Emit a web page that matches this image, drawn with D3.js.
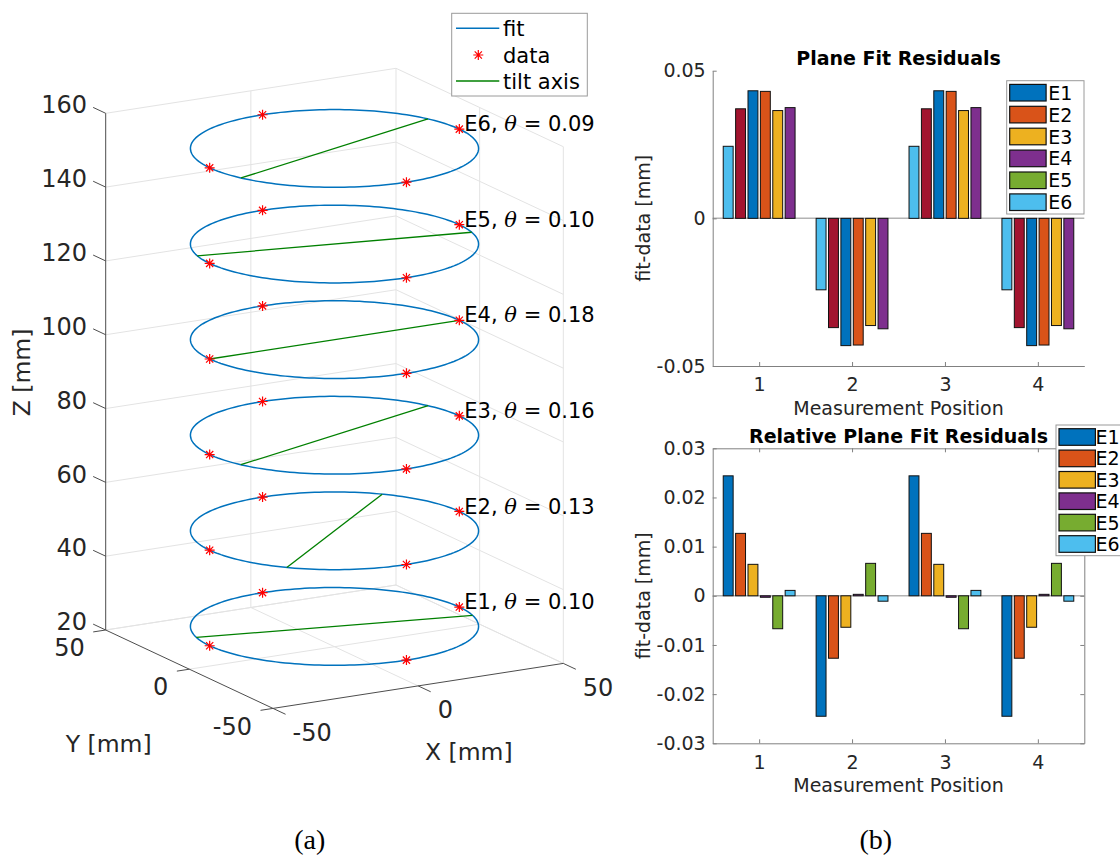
<!DOCTYPE html>
<html>
<head>
<meta charset="utf-8">
<script src="https://cdn.jsdelivr.net/npm/d3@7"></script>
<style>
  html, body { margin: 0; padding: 0; background: #fff; }
  svg { display: block; font-family: "DejaVu Sans", sans-serif; }
</style>
</head>
<body>
<svg id="fig" width="1120" height="857"></svg>
<script>
// ---------------- left panel: fitted circles of the six planes ----------------
const planeNames    = ["E1", "E2", "E3", "E4", "E5", "E6"];
const planeZ        = [25.5, 51.4, 77.3, 103.2, 129.1, 155.0];   // plane height [mm]
const fitRadius     = 43;                                        // fitted circle radius [mm]
const tiltTheta     = [0.10, 0.13, 0.16, 0.18, 0.10, 0.09];      // tilt angle theta
const tiltAxisAngle = [-13.4, 40.7, 19.5, 0.0, -12.2, 19.6];     // azimuth of tilt axis [deg]
const probeAngles   = [0, 90, 180, 270];                         // measured points [deg]
const xTicks3 = [-50, 0, 50];
const yTicks3 = [-50, 0, 50];
const zTicks3 = [20, 40, 60, 80, 100, 120, 140, 160];

// ---------------- right panels: residuals per measurement position ----------------
const positions = [1, 2, 3, 4];
const seriesNames = ["E1", "E2", "E3", "E4", "E5", "E6"];
const seriesColors = ["#0072BD", "#D95319", "#EDB120", "#7E2F8E", "#77AC30", "#4DBEEE"];

// plane fit residuals, bars in drawing order
const planeResiduals = [
  [0.0244, -0.0242, 0.0244, -0.0242],
  [0.0371, -0.0370, 0.0371, -0.0370],
  [0.0432, -0.0431, 0.0432, -0.0431],
  [0.0430, -0.0429, 0.0430, -0.0429],
  [0.0365, -0.0363, 0.0365, -0.0363],
  [0.0375, -0.0374, 0.0375, -0.0374]
];
const planeResidualColors = ["#4DBEEE", "#A2142F", "#0072BD", "#D95319", "#EDB120", "#7E2F8E"];

// relative plane fit residuals, one row per plane E1..E6
const relResiduals = [
  [0.0244, -0.0245, 0.0244, -0.0245],
  [0.0127, -0.0127, 0.0127, -0.0127],
  [0.0064, -0.0064, 0.0064, -0.0064],
  [-0.0003, 0.0003, -0.0003, 0.0003],
  [-0.0067, 0.0066, -0.0067, 0.0066],
  [0.0011, -0.0011, 0.0011, -0.0011]
];

const topTicks = [-0.05, 0, 0.05];
const topTickLabels = ["-0.05", "0", "0.05"];
const bottomTicks = [-0.03, -0.02, -0.01, 0, 0.01, 0.02, 0.03];
const bottomTickLabels = ["-0.03", "-0.02", "-0.01", "0", "0.01", "0.02", "0.03"];

// ============================================================================
const svg = d3.select("#fig");
const TXT = "#262626";

// ---------------- 3-D axes (orthographic projection) ----------------
const sx = d3.scaleLinear().domain([-50, 50]).range([0, 1]);
const sy = d3.scaleLinear().domain([-50, 50]).range([0, 1]);
const sz = d3.scaleLinear().domain([20, 160]).range([0, 1]);
const O  = [273, 708.4];          // corner x=-50, y=-50, z=20
const EX = [290.3, -45.0];        // full x span on screen
const EY = [-167.3, -78.4];       // full y span on screen
const EZ = [0, -516.7];           // full z span on screen
function proj(x, y, z) {
  const u = sx(x), v = sy(y), w = sz(z);
  return [O[0] + u * EX[0] + v * EY[0] + w * EZ[0],
          O[1] + u * EX[1] + v * EY[1] + w * EZ[1]];
}
const line3 = d3.line().x(d => d[0]).y(d => d[1]);

const g3 = svg.append("g");
const grid = g3.append("g").attr("fill", "none").attr("stroke", "#e3e3e3").attr("stroke-width", 1);
// back walls: constant-z lines
zTicks3.forEach(z => grid.append("path").attr("d", line3([proj(-50, 50, z), proj(50, 50, z), proj(50, -50, z)])));
// back-left wall verticals
xTicks3.filter(x => x > -50).forEach(x => grid.append("path").attr("d", line3([proj(x, 50, 20), proj(x, 50, 160)])));
// back-right wall verticals
yTicks3.filter(y => y < 50).forEach(y => grid.append("path").attr("d", line3([proj(50, y, 20), proj(50, y, 160)])));
// floor
xTicks3.filter(x => x > -50).forEach(x => grid.append("path").attr("d", line3([proj(x, -50, 20), proj(x, 50, 20)])));
yTicks3.filter(y => y > -50).forEach(y => grid.append("path").attr("d", line3([proj(-50, y, 20), proj(50, y, 20)])));

// axis lines and ticks
const ax = g3.append("g").attr("fill", "none").attr("stroke", "#4d4d4d").attr("stroke-width", 1);
ax.append("path").attr("d", line3([proj(-50, 50, 20), proj(-50, 50, 160)]));
ax.append("path").attr("d", line3([proj(-50, 50, 20), proj(-50, -50, 20)]));
ax.append("path").attr("d", line3([proj(-50, -50, 20), proj(50, -50, 20)]));

const tickFs = 24;
zTicks3.forEach(z => {
  const a = proj(-50, 50, z), b = proj(-50, 57.5, z);
  ax.append("path").attr("d", line3([a, b]));
  g3.append("text").attr("x", b[0] - 6).attr("y", b[1] - 2.7 + 0.364 * tickFs)
    .attr("text-anchor", "end").attr("font-size", tickFs).attr("fill", TXT).text(z);
});
yTicks3.forEach(y => {
  const a = proj(-50, y, 20), b = proj(-54.3, y, 20);
  ax.append("path").attr("d", line3([a, b]));
  g3.append("text").attr("x", b[0] - 8.5).attr("y", b[1] + 15.5 + 0.364 * tickFs)
    .attr("text-anchor", "end").attr("font-size", tickFs).attr("fill", TXT).text(y);
});
xTicks3.forEach(x => {
  const a = proj(x, -50, 20), b = proj(x, -57.5, 20);
  ax.append("path").attr("d", line3([a, b]));
  g3.append("text").attr("x", b[0] + 7).attr("y", b[1] + 17.5 + 0.364 * tickFs)
    .attr("text-anchor", "start").attr("font-size", tickFs).attr("fill", TXT).text(x);
});

const labFs = 23.5;
g3.append("text").attr("x", 108.7).attr("y", 745 + 0.31 * labFs).attr("text-anchor", "middle")
  .attr("font-size", labFs).attr("fill", TXT).text("Y [mm]");
g3.append("text").attr("x", 468.8).attr("y", 752.5 + 0.31 * labFs).attr("text-anchor", "middle")
  .attr("font-size", labFs).attr("fill", TXT).text("X [mm]");
g3.append("text").attr("transform", `translate(${22.7 + 0.31 * labFs},372.5) rotate(-90)`)
  .attr("text-anchor", "middle").attr("font-size", labFs).attr("fill", TXT).text("Z [mm]");

// asterisk marker
function asterisk(c, s) {
  const d = s * 0.72;
  return `M${c[0] - s},${c[1]}L${c[0] + s},${c[1]}M${c[0]},${c[1] - s}L${c[0]},${c[1] + s}` +
         `M${c[0] - d},${c[1] - d}L${c[0] + d},${c[1] + d}M${c[0] - d},${c[1] + d}L${c[0] + d},${c[1] - d}`;
}
const rad = Math.PI / 180;
const circleAngles = d3.range(0, 361, 2);

planeNames.forEach((name, i) => {
  const z = planeZ[i];
  // fitted circle
  g3.append("path")
    .attr("d", line3(circleAngles.map(a => proj(fitRadius * Math.cos(a * rad), fitRadius * Math.sin(a * rad), z))))
    .attr("fill", "none").attr("stroke", "#0072BD").attr("stroke-width", 1.5);
  // tilt axis
  const t = tiltAxisAngle[i] * rad;
  g3.append("path")
    .attr("d", line3([proj(fitRadius * Math.cos(t), fitRadius * Math.sin(t), z),
                      proj(-fitRadius * Math.cos(t), -fitRadius * Math.sin(t), z)]))
    .attr("fill", "none").attr("stroke", "#008000").attr("stroke-width", 1.3);
  // measured points
  probeAngles.forEach(a => {
    const p = proj(fitRadius * Math.cos(a * rad), fitRadius * Math.sin(a * rad), z);
    g3.append("path").attr("d", asterisk(p, 5)).attr("stroke", "#ff0000").attr("stroke-width", 1.2).attr("fill", "none");
  });
  // label
  const p0 = proj(fitRadius, 0, z);
  const txt = g3.append("text").attr("x", p0[0] + 5).attr("y", p0[1] + 2.2)
    .attr("font-size", 21).attr("fill", "#000");
  txt.append("tspan").text(`${name}, `);
  txt.append("tspan").attr("font-family", "'DejaVu Serif', serif").attr("font-style", "italic").text("θ");
  txt.append("tspan").text(` = ${d3.format(".2f")(tiltTheta[i])}`);
});

// legend (left panel)
const lg = g3.append("g");
lg.append("rect").attr("x", 451.7).attr("y", 13.3).attr("width", 135.6).attr("height", 82.7)
  .attr("fill", "#fff").attr("stroke", "#9a9a9a").attr("stroke-width", 1);
const legItems = [
  { label: "fit", kind: "line", color: "#0072BD", y: 28.3 },
  { label: "data", kind: "star", color: "#ff0000", y: 55 },
  { label: "tilt axis", kind: "line", color: "#008000", y: 81 }
];
legItems.forEach(it => {
  if (it.kind === "line") {
    lg.append("line").attr("x1", 456).attr("x2", 499.3).attr("y1", it.y).attr("y2", it.y)
      .attr("stroke", it.color).attr("stroke-width", 1.5);
  } else {
    lg.append("path").attr("d", asterisk([478.3, it.y], 5)).attr("stroke", it.color).attr("stroke-width", 1.2);
  }
  lg.append("text").attr("x", 503).attr("y", it.y + 8).attr("font-size", 21).attr("fill", "#000").text(it.label);
});

// panel labels
svg.append("text").attr("x", 309.7).attr("y", 848.6).attr("text-anchor", "middle")
  .attr("font-family", "'Liberation Serif', serif").attr("font-size", 28).attr("fill", "#000").text("(a)");
svg.append("text").attr("x", 875.8).attr("y", 849.1).attr("text-anchor", "middle")
  .attr("font-family", "'Liberation Serif', serif").attr("font-size", 28).attr("fill", "#000").text("(b)");

// ---------------- grouped bar panels ----------------
function barPanel(cfg) {
  const fs = 19;
  const g = svg.append("g");
  const x = d3.scaleLinear().domain([0.5, 4.5]).range([cfg.left, cfg.right]);
  const y = d3.scaleLinear().domain(cfg.yDomain).range([cfg.bottom, cfg.top]);
  const slot = d3.scaleBand().domain(d3.range(cfg.values.length)).range([-0.4, 0.4])
    .paddingInner(0.2).paddingOuter(0.1);

  // zero baseline
  g.append("line").attr("x1", cfg.left).attr("x2", cfg.right).attr("y1", y(0)).attr("y2", y(0))
    .attr("stroke", "#b3b3b3").attr("stroke-width", 1.5);

  // bars
  cfg.values.forEach((vals, s) => {
    g.append("g").selectAll("rect").data(vals).join("rect")
      .attr("x", (v, k) => x(positions[k] + slot(s)))
      .attr("width", x(slot.bandwidth()) - x(0))
      .attr("y", v => y(Math.max(0, v)))
      .attr("height", v => Math.abs(y(v) - y(0)))
      .attr("fill", cfg.colors[s]).attr("stroke", "#111").attr("stroke-width", 1);
  });

  const style = sel => {
    sel.select(".domain").attr("stroke", "#808080");
    sel.selectAll(".tick line").attr("stroke", "#808080");
    sel.selectAll("text").attr("font-family", "'DejaVu Sans', sans-serif").attr("font-size", fs).attr("fill", TXT);
  };
  g.append("g").attr("transform", `translate(${cfg.left},0)`)
    .call(d3.axisLeft(y).tickValues(cfg.ticks).tickFormat((d, i) => cfg.tickLabels[i])
      .tickSizeInner(-4).tickSizeOuter(0).tickPadding(7)).call(style);
  g.append("g").attr("transform", `translate(0,${cfg.bottom})`)
    .call(d3.axisBottom(x).tickValues(positions).tickFormat(d3.format("d"))
      .tickSizeInner(-4).tickSizeOuter(0).tickPadding(12)).call(style);
  if (cfg.box) {
    g.append("g").attr("transform", `translate(${cfg.right},0)`)
      .call(d3.axisRight(y).tickValues(cfg.ticks).tickFormat("").tickSizeInner(-4).tickSizeOuter(0)).call(style);
    g.append("g").attr("transform", `translate(0,${cfg.top})`)
      .call(d3.axisTop(x).tickValues(positions).tickFormat("").tickSizeInner(-4).tickSizeOuter(0)).call(style);
  }

  g.append("text").attr("x", (cfg.left + cfg.right) / 2).attr("y", cfg.top - 5.5)
    .attr("text-anchor", "middle").attr("font-size", fs).attr("font-weight", "bold").attr("fill", "#000")
    .text(cfg.title);
  g.append("text").attr("x", (cfg.left + cfg.right) / 2).attr("y", cfg.bottom + 48.5)
    .attr("text-anchor", "middle").attr("font-size", fs).attr("fill", TXT).text("Measurement Position");
  g.append("text")
    .attr("transform", `translate(${644 + 0.31 * fs},${(cfg.top + cfg.bottom) / 2}) rotate(-90)`)
    .attr("text-anchor", "middle").attr("font-size", fs).attr("fill", TXT).text("fit-data [mm]");

  // legend
  const L = cfg.legend;
  const lgb = g.append("g");
  lgb.append("rect").attr("x", L.x).attr("y", L.y).attr("width", L.w).attr("height", L.h)
    .attr("fill", "#fff").attr("stroke", "#9a9a9a").attr("stroke-width", 1);
  seriesNames.forEach((n, i) => {
    const cy = L.row0 + i * L.pitch;
    lgb.append("rect").attr("x", L.x + 3).attr("y", cy - 8.3).attr("width", 36.4).attr("height", 16.6)
      .attr("fill", seriesColors[i]).attr("stroke", "#111").attr("stroke-width", 1.2);
    lgb.append("text").attr("x", L.x + L.textDx).attr("y", cy + 7).attr("font-size", fs)
      .attr("fill", "#000").text(n);
  });
}

barPanel({
  left: 712.7, right: 1084.3, top: 70.7, bottom: 366,
  yDomain: [-0.05, 0.05], ticks: topTicks, tickLabels: topTickLabels,
  values: planeResiduals, colors: planeResidualColors, box: false,
  title: "Plane Fit Residuals",
  legend: { x: 1006.7, y: 80.7, w: 77.3, h: 133.3, row0: 92.7, pitch: 21.9, textDx: 41.5 }
});
barPanel({
  left: 712.7, right: 1084.3, top: 448.3, bottom: 743.3,
  yDomain: [-0.03, 0.03], ticks: bottomTicks, tickLabels: bottomTickLabels,
  values: relResiduals, colors: seriesColors, box: true,
  title: "Relative Plane Fit Residuals",
  legend: { x: 1056, y: 425, w: 77.3, h: 130.7, row0: 437, pitch: 21.4, textDx: 39.5 }
});
</script>
</body>
</html>
